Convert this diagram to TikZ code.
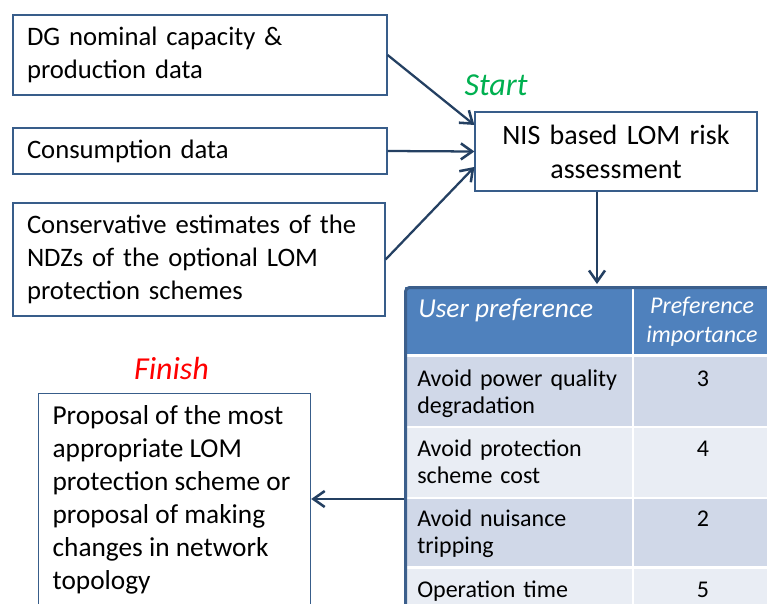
\documentclass[tikz,border=0pt]{standalone}
\usepackage{fontspec}
\setmainfont{Carlito}
\usetikzlibrary{arrows.meta,calc}
\definecolor{boxline}{RGB}{56,93,138}
\definecolor{tableedge}{RGB}{60,95,140}
\definecolor{arrowc}{RGB}{36,64,98}
\definecolor{hdrfill}{RGB}{79,129,189}
\definecolor{rowa}{RGB}{208,216,232}
\definecolor{rowb}{RGB}{233,237,244}
\definecolor{startgreen}{RGB}{0,176,80}
\definecolor{finishred}{RGB}{255,0,0}

\begin{document}
\begin{tikzpicture}[x=0.75pt,y=-0.75pt,
  inbox/.style={draw=boxline, line width=0.9pt, fill=white, align=left,
    inner xsep=10.5pt, inner ysep=0pt, font=\fontsize{20}{24.5}\selectfont},
  flow/.style={draw=arrowc, line width=1.7pt,
    -{Straight Barb[length=8.5pt,width=12pt,line width=1.9pt]}},
  cell/.style={anchor=base west, align=left, inner sep=0pt, text width=200pt,
    font=\fontsize{18}{20.25}\selectfont},
  num/.style={anchor=base, inner sep=0pt, font=\fontsize{18}{20.25}\selectfont},
  tag/.style={inner sep=0pt, anchor=base, font=\fontsize{24}{28}\selectfont\itshape}]

\clip (0,0) rectangle (767,603);
\fill[white] (0,0) rectangle (767,603);

% input data boxes
\node[inbox, text width=259.5pt, minimum height=60pt] (dg) at (200,55)
  {DG nominal capacity \&\\production data};
\node[inbox, text width=259.5pt, minimum height=34.5pt] (cons) at (200,151)
  {Consumption data};
\node[inbox, text width=258pt, minimum height=84.75pt] (ndz) at (199,259.5)
  {Conservative estimates of the\\NDZs of the optional LOM\\protection schemes};

% risk assessment step
\node[inbox, align=center, text width=190.5pt, minimum height=59.25pt,
  font=\fontsize{21}{25.5}\selectfont] (nis) at (616,151.5)
  {NIS based LOM risk\\assessment};
\node[tag, text=startgreen] (start) at (496,95) {Start};

\draw[flow] (dg.east) -- ([yshift=19.9pt]nis.west);
\draw[flow] (cons.east) -- (nis.west);
\draw[flow] (ndz.east) -- ([yshift=-11.6pt]nis.west);

% user preference table
\fill[hdrfill] (405,287) rectangle (632,354);
\fill[hdrfill] (634,287) rectangle (780,354);
\fill[rowa] (405,357) rectangle (632,426);
\fill[rowa] (634,357) rectangle (780,426);
\fill[rowb] (405,428) rectangle (632,497);
\fill[rowb] (634,428) rectangle (780,497);
\fill[rowa] (405,499) rectangle (632,566);
\fill[rowa] (634,499) rectangle (780,566);
\fill[rowb] (405,569) rectangle (632,620);
\fill[rowb] (634,569) rectangle (780,620);
\draw[tableedge, line width=2.25pt, rounded corners=3pt] (405.5,620) |- (780,287.5);

\node[anchor=base west, inner sep=0pt, text=white,
  font=\fontsize{20.5}{24}\selectfont\itshape] (h1) at (418,317) {User preference};
\node[anchor=base, inner sep=0pt, text=white, align=center, text width=110pt,
  font=\fontsize{18}{21.75}\selectfont\itshape] (h2) at (702,313)
  {Preference\\importance};

\node[cell] (r1) at (417,386) {Avoid power quality\\degradation};
\node[num] (v1) at (703,386) {3};
\node[cell] (r2) at (417,456) {Avoid protection\\scheme cost};
\node[num] (v2) at (703,456) {4};
\node[cell] (r3) at (417,526) {Avoid nuisance\\tripping};
\node[num] (v3) at (703,526) {2};
\node[cell] (r4) at (417,597) {Operation time};
\node[num] (v4) at (703,597) {5};

\coordinate (tbltop) at (597,284);
\draw[flow] (nis.south -| tbltop) -- (tbltop);

% final proposal
\node[inbox, anchor=north west, inner ysep=9pt,
  font=\fontsize{20.5}{24.75}\selectfont] (fin) at (38,393)
  {\parbox[t][200pt][t]{183pt}{\raggedright Proposal of the most\\appropriate LOM\\protection scheme or\\proposal of making\\changes in network\\topology}};
\node[tag, text=finishred] (finish) at (171.5,379) {Finish};

\coordinate (tblleft) at (404,499);
\draw[flow] (tblleft) -- (tblleft -| fin.east);
\end{tikzpicture}
\end{document}
